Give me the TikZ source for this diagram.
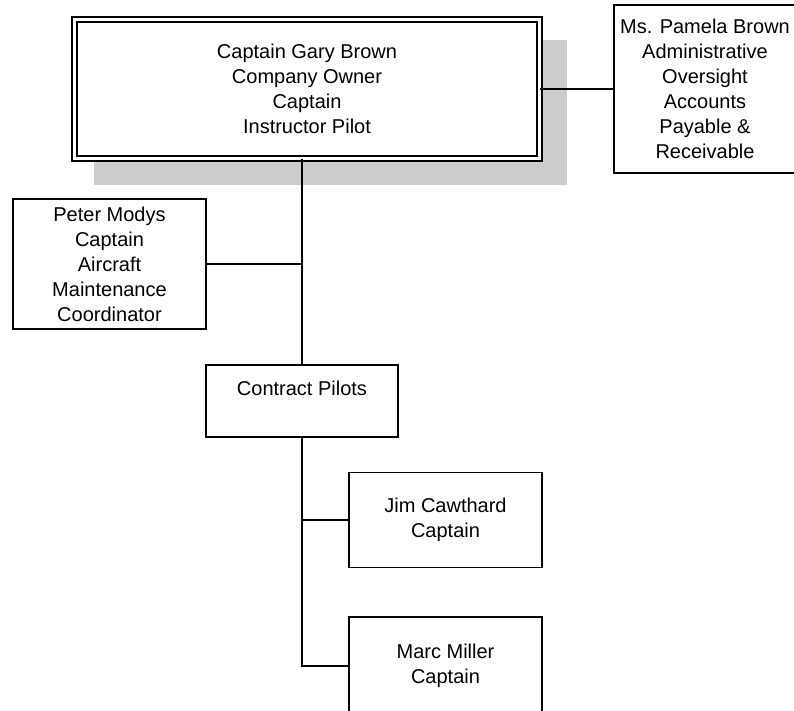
\documentclass[tikz,border=0pt]{standalone}
\usepackage{fontspec}
\setmainfont{Liberation Sans}
\definecolor{shadowgray}{RGB}{204,204,204}
\tikzset{
  box/.style={draw,line width=1.1pt,fill=white,align=center,inner sep=0pt,
    font=\fontsize{15}{18.75}\selectfont},
  link/.style={line width=1.1pt}
}
\begin{document}
\begin{tikzpicture}[x=0.75pt,y=0.75pt]
\useasboundingbox (0,0) rectangle (794,711);
\clip (0,0) rectangle (794,711);

\fill[shadowgray] (94,671) rectangle (567,526);
\node[box,double,double distance=2.4pt,line width=1.2pt,minimum width=349pt,minimum height=104pt] (boss) at (307,622)
  {Captain Gary Brown\\Company Owner\\Captain\\Instructor Pilot};
\node[box,minimum width=136.5pt,minimum height=126pt] (admin) at (705,622)
  {Ms. Pamela Brown\\Administrative\\Oversight\\Accounts\\Payable \&\\Receivable};
\node[box,minimum width=145pt,minimum height=97.5pt] (peter) at (109.5,447)
  {Peter Modys\\Captain\\Aircraft\\Maintenance\\Coordinator};
\node[box,minimum width=144pt,minimum height=54pt] (pilots) at (302,310)
  {Contract Pilots\\~};
\node[box,minimum width=145pt,minimum height=71.5pt] (jim) at (445.5,191)
  {Jim Cawthard\\Captain};
\node[box,minimum width=145pt,minimum height=73.5pt] (marc) at (445.5,45)
  {Marc Miller\\Captain};

% connectors
\draw[link] (pilots.north) -- (pilots.north |- boss.south);
\draw[link] (boss.east) -- (admin.west);
\draw[link] (peter.east) -- (peter.east -| pilots.north);
\draw[link] (pilots.south) -- (pilots.south |- marc.west) -- (marc.west);
\draw[link] (jim.west) -- (jim.west -| pilots.south);

\end{tikzpicture}
\end{document}
